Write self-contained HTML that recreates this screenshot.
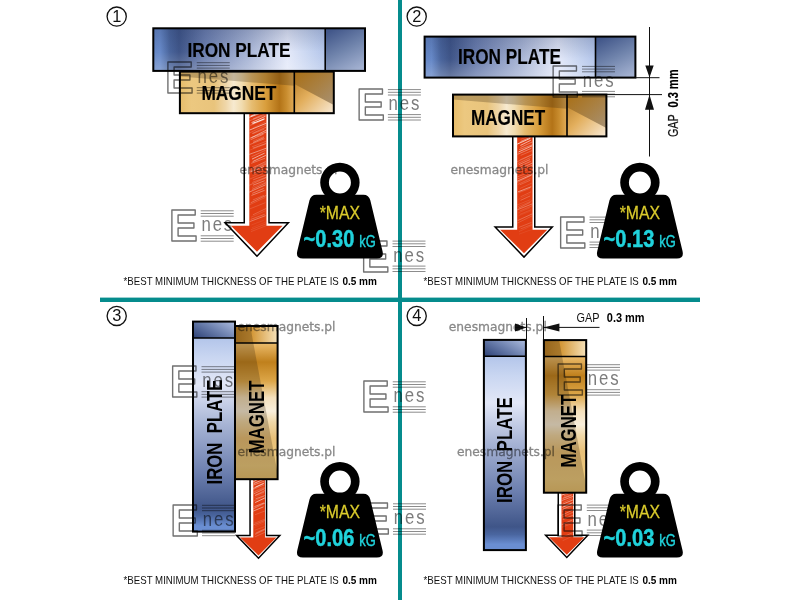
<!DOCTYPE html>
<html lang="en">
<head>
<meta charset="utf-8">
<title>Magnet holding force diagram</title>
<style>
html,body{margin:0;padding:0;background:#fff;}
body{width:800px;height:600px;overflow:hidden;}
svg{display:block;font-family:"Liberation Sans",sans-serif;will-change:transform;}
</style>
</head>
<body>
<svg width="800" height="600" viewBox="0 0 800 600">
<rect width="800" height="600" fill="#fff"/>
<defs>
<linearGradient id="gIron" x1="0" y1="0" x2="1" y2="0">
<stop offset="0" stop-color="#6587c6"/><stop offset="0.04" stop-color="#6789c8"/><stop offset="0.095" stop-color="#4a659c"/>
<stop offset="0.15" stop-color="#3f5588"/><stop offset="0.3" stop-color="#6b7eae"/><stop offset="0.55" stop-color="#a6b3d4"/>
<stop offset="0.78" stop-color="#e4e9f9"/><stop offset="0.9" stop-color="#c9d6f1"/><stop offset="1" stop-color="#b3c5ea"/>
</linearGradient>
<linearGradient id="gIronV" x1="0" y1="0" x2="0" y2="1">
<stop offset="0" stop-color="#1a2a55" stop-opacity="0.2"/><stop offset="0.55" stop-color="#1a2a55" stop-opacity="0"/><stop offset="0.55" stop-color="#fff" stop-opacity="0"/><stop offset="1" stop-color="#fff" stop-opacity="0.22"/>
</linearGradient>
<linearGradient id="gIronEnd" x1="0.25" y1="0" x2="0.75" y2="1">
<stop offset="0" stop-color="#42578a"/><stop offset="0.5" stop-color="#7084ac"/><stop offset="1" stop-color="#a2b0d0"/>
</linearGradient>
<linearGradient id="gMag" x1="0" y1="0" x2="1" y2="0">
<stop offset="0" stop-color="#e6bc6a"/><stop offset="0.1" stop-color="#ecc880"/><stop offset="0.3" stop-color="#e9c47c"/><stop offset="0.4" stop-color="#efd6a8"/>
<stop offset="0.47" stop-color="#f7ead0"/><stop offset="0.54" stop-color="#f1dcb0"/><stop offset="0.63" stop-color="#e6bc70"/><stop offset="0.75" stop-color="#d99e3c"/><stop offset="0.87" stop-color="#b37317"/><stop offset="0.93" stop-color="#c88c2e"/><stop offset="1" stop-color="#e2ac58"/>
</linearGradient>
<linearGradient id="gMagShade" x1="0" y1="0" x2="1" y2="0">
<stop offset="0" stop-color="#8a6a3a" stop-opacity="0.3"/><stop offset="0.5" stop-color="#8e8270" stop-opacity="0.55"/><stop offset="1" stop-color="#7a5a2a" stop-opacity="0.6"/>
</linearGradient>
<linearGradient id="gMagEnd" x1="0" y1="0" x2="1" y2="1">
<stop offset="0" stop-color="#b57a22"/><stop offset="0.45" stop-color="#e2ae5c"/><stop offset="1" stop-color="#f8ead6"/>
</linearGradient>
<linearGradient id="gMagEndShade" x1="0" y1="0" x2="1" y2="1">
<stop offset="0" stop-color="#a86e14" stop-opacity="0.9"/><stop offset="1" stop-color="#9a8466" stop-opacity="0.85"/>
</linearGradient>
<linearGradient id="gIronUp" x1="0" y1="1" x2="0" y2="0">
<stop offset="0" stop-color="#6a8ed2"/><stop offset="0.03" stop-color="#6a8ed2"/><stop offset="0.08" stop-color="#4a66a0"/>
<stop offset="0.12" stop-color="#3f5588"/><stop offset="0.3" stop-color="#6b7eae"/><stop offset="0.55" stop-color="#a6b3d4"/>
<stop offset="0.76" stop-color="#e2e7f7"/><stop offset="0.9" stop-color="#c9d6f1"/><stop offset="1" stop-color="#b3c5ea"/>
</linearGradient>
<linearGradient id="gIronEndV" x1="0" y1="0.85" x2="1" y2="0.15">
<stop offset="0" stop-color="#34487c"/><stop offset="0.5" stop-color="#6a7eac"/><stop offset="1" stop-color="#a6b6da"/>
</linearGradient>
<linearGradient id="gMagUp" x1="0" y1="1" x2="0" y2="0">
<stop offset="0" stop-color="#e6c070"/><stop offset="0.1" stop-color="#eccb80"/><stop offset="0.3" stop-color="#e8c078"/><stop offset="0.42" stop-color="#f0d8a8"/>
<stop offset="0.5" stop-color="#f9efdc"/><stop offset="0.6" stop-color="#f4e0bc"/><stop offset="0.72" stop-color="#dca648"/><stop offset="0.86" stop-color="#c0801c"/><stop offset="1" stop-color="#ecbc6c"/>
</linearGradient>
<linearGradient id="gMagEndV" x1="0" y1="0" x2="1" y2="0">
<stop offset="0" stop-color="#b87c20"/><stop offset="0.4" stop-color="#d49838"/><stop offset="1" stop-color="#f6e2ba"/>
</linearGradient>
<g id="logo" fill="none" stroke="#727272" stroke-width="1.4">
<text transform="translate(-2.2,31.3) scale(0.985,1)" font-size="43.8" font-weight="bold" fill="none" stroke-linejoin="round">E</text>
<path d="M29.5,0.8 H62.5 M29.5,3.5 H62.5 M29.5,6.2 H62.5 M29.5,25.8 H62.5 M29.5,28.5 H62.5 M29.5,31.2 H62.5" stroke="#8c8c8c" stroke-width="1"/>
<text transform="translate(30.2,21.3) scale(0.82,1)" font-size="20.5" fill="#7c7c7c" stroke="none" letter-spacing="2.3">nes</text>
</g>
<g id="weight">
<path d="M-19.7,0 A19.7,19.7 0 1 1 19.7,0 A19.7,19.7 0 1 1 -19.7,0 Z M-11,0 A11,11 0 1 0 11,0 A11,11 0 1 0 -11,0 Z" fill="#000" fill-rule="evenodd"/>
<path d="M-23.5,12.2 H23.5 Q29,12.2 30.4,17.8 L42.6,68.6 Q44.4,76 37,76 H-37 Q-44.4,76 -42.6,68.6 L-30.4,17.8 Q-29,12.2 -23.5,12.2 Z" fill="#000"/>
</g>
</defs>

<!-- divider lines -->
<rect x="398" y="0" width="4" height="600" fill="#058c8d"/>
<rect x="100" y="297.6" width="600" height="4.4" fill="#058c8d"/>
<!-- panel 1 -->
<path d="M244.25,112 V222.75 H225.1 L257,256.2 L288.4,222.75 H269 V112" fill="#fff" stroke="#000" stroke-width="1.5" stroke-linejoin="miter"/><clipPath id="ac1"><path d="M249.3,112 V225.75 H230.9 L257,251.7 L282.6,225.75 H266.45 V112 Z"/></clipPath><path d="M249.3,112 V225.75 H230.9 L257,251.7 L282.6,225.75 H266.45 V112 Z" fill="#e13d13"/><g clip-path="url(#ac1)" stroke="#fff" fill="none"><path d="M250.63,116.27 L265.42,109.73" stroke-width="1.04" stroke-opacity="0.66"/><path d="M248.77,117.53 L266.24,111.02" stroke-width="0.94" stroke-opacity="0.7"/><path d="M253.12,119.1 L264.83,113.88" stroke-width="1.07" stroke-opacity="0.32"/><path d="M249.25,120.87 L266.48,114.59" stroke-width="0.39" stroke-opacity="0.63"/><path d="M251.5,122.58 L265.45,116.27" stroke-width="0.72" stroke-opacity="0.82"/><path d="M252.5,123.56 L264.62,118.66" stroke-width="1.07" stroke-opacity="0.91"/><path d="M250.3,125.3 L264.06,119.6" stroke-width="0.9" stroke-opacity="0.33"/><path d="M252.85,128.05 L265.57,121.73" stroke-width="0.49" stroke-opacity="0.28"/><path d="M249.65,130.04 L267.1,122.94" stroke-width="0.89" stroke-opacity="0.66"/><path d="M248.81,133.27 L267.21,124.59" stroke-width="0.51" stroke-opacity="0.35"/><path d="M251.96,133.57 L266.93,126.83" stroke-width="0.47" stroke-opacity="0.54"/><path d="M253.15,133.61 L264.24,129.14" stroke-width="0.52" stroke-opacity="0.4"/><path d="M251.51,137.58 L267.05,129.83" stroke-width="0.93" stroke-opacity="0.5"/><path d="M249.78,138.26 L267.16,131.78" stroke-width="0.56" stroke-opacity="0.72"/><path d="M250.57,139.69 L263.61,134.11" stroke-width="0.58" stroke-opacity="0.61"/><path d="M252.84,141 L264.18,136.52" stroke-width="0.43" stroke-opacity="0.37"/><path d="M253.05,142.46 L263.92,137.63" stroke-width="0.46" stroke-opacity="0.79"/><path d="M249.49,144.67 L264.63,138.68" stroke-width="0.98" stroke-opacity="0.28"/><path d="M251.9,146.9 L267.17,140.92" stroke-width="0.44" stroke-opacity="0.42"/><path d="M252.89,148.24 L266.63,143.26" stroke-width="0.51" stroke-opacity="0.59"/><path d="M250.14,149.99 L265.16,144.31" stroke-width="0.43" stroke-opacity="0.28"/><path d="M249,154.49 L267.31,147.85" stroke-width="0.7" stroke-opacity="0.61"/><path d="M251.48,156.78 L265.52,150.29" stroke-width="0.32" stroke-opacity="0.75"/><path d="M251.99,159.1 L264.64,153.14" stroke-width="0.89" stroke-opacity="0.62"/><path d="M252.66,161.59 L265.78,155.41" stroke-width="0.89" stroke-opacity="0.58"/><path d="M251.21,163.35 L265.01,158.23" stroke-width="0.55" stroke-opacity="0.54"/><path d="M251.2,168.53 L265.69,161.61" stroke-width="0.76" stroke-opacity="0.41"/><path d="M250.7,169.82 L266.53,162.57" stroke-width="0.68" stroke-opacity="0.24"/><path d="M248.36,172.01 L266.25,163.87" stroke-width="0.45" stroke-opacity="0.66"/><path d="M250.51,171.96 L263.88,166.53" stroke-width="0.71" stroke-opacity="0.65"/><path d="M252.87,173.53 L263.93,168.96" stroke-width="0.79" stroke-opacity="0.42"/><path d="M252.49,175.78 L264.06,170.46" stroke-width="0.59" stroke-opacity="0.28"/><path d="M249.68,179.08 L266.59,172.01" stroke-width="0.56" stroke-opacity="0.29"/><path d="M253.21,179.79 L265.64,175.18" stroke-width="0.79" stroke-opacity="0.35"/><path d="M252.26,182.46 L267.37,176.73" stroke-width="0.47" stroke-opacity="0.46"/><path d="M249,185.36 L267.26,177.18" stroke-width="0.42" stroke-opacity="0.57"/><path d="M253.09,185.2 L264.71,180.69" stroke-width="0.76" stroke-opacity="0.48"/><path d="M251.87,187.62 L266.73,181.7" stroke-width="0.56" stroke-opacity="0.2"/><path d="M252.08,189.42 L265.88,182.93" stroke-width="0.64" stroke-opacity="0.42"/><path d="M248.95,192.27 L265.64,184.8" stroke-width="0.69" stroke-opacity="0.58"/><path d="M252.28,193.32 L263.67,188.48" stroke-width="0.78" stroke-opacity="0.42"/><path d="M251.51,195.42 L264.58,190.33" stroke-width="0.74" stroke-opacity="0.48"/><path d="M252.85,199.98 L264.03,195.41" stroke-width="0.44" stroke-opacity="0.49"/><path d="M250.74,202.74 L267.34,194.89" stroke-width="0.69" stroke-opacity="0.39"/><path d="M249.04,204.94 L265.38,197.4" stroke-width="0.34" stroke-opacity="0.47"/><path d="M249.41,209.04 L265.34,202.66" stroke-width="0.3" stroke-opacity="0.51"/><path d="M252.8,214.88 L266.62,208.26" stroke-width="0.7" stroke-opacity="0.29"/><path d="M250.98,217.24 L265.44,210.81" stroke-width="0.35" stroke-opacity="0.35"/><path d="M250.76,219.41 L264.69,214.26" stroke-width="0.54" stroke-opacity="0.42"/><path d="M249.65,221.65 L265.56,215.64" stroke-width="0.72" stroke-opacity="0.46"/><path d="M251.39,224.98 L263.75,220.31" stroke-width="0.34" stroke-opacity="0.24"/><path d="M251.74,227.77 L266.16,221.86" stroke-width="0.35" stroke-opacity="0.2"/><path d="M250.85,229.77 L266.45,223.72" stroke-width="0.3" stroke-opacity="0.36"/><path d="M250.95,231.62 L266.81,225.46" stroke-width="0.44" stroke-opacity="0.25"/></g>
<g transform="translate(179.9,71.6)"><rect width="114.4" height="41.6" fill="url(#gMag)"/><polygon points="0,0 114.4,0 114.4,14.14 0,4.99" fill="#3c2a10" fill-opacity="0.27"/><rect x="114.4" width="39.5" height="41.6" fill="url(#gMagEnd)"/><polygon points="114.4,0 153.9,0 153.9,33.28 114.4,12.48" fill="url(#gMagEndShade)"/><rect width="153.9" height="41.6" fill="none" stroke="#000" stroke-width="2"/><line x1="114.4" y1="0" x2="114.4" y2="41.6" stroke="#000" stroke-width="1.6"/></g>
<g transform="translate(153.3,28.3)"><rect width="171.9" height="42.6" fill="url(#gIron)"/><rect width="171.9" height="42.6" fill="url(#gIronV)"/><rect x="171.9" width="39.8" height="42.6" fill="url(#gIronEnd)"/><rect width="211.7" height="42.6" fill="none" stroke="#000" stroke-width="2"/><line x1="171.9" y1="0" x2="171.9" y2="42.6" stroke="#000" stroke-width="1.6"/></g>
<text transform="translate(187.4,56.7) scale(0.8235,1)" font-size="20.95" font-weight="bold" fill="#000" stroke="#000" stroke-width="0.15">IRON PLATE</text>
<text transform="translate(201.4,100) scale(0.8606,1)" font-size="20.11" font-weight="bold" fill="#000" stroke="#000" stroke-width="0.15">MAGNET</text>
<text transform="translate(123.6,284.9) scale(0.9124,1)" font-size="10.61" fill="#111">*BEST MINIMUM THICKNESS OF THE PLATE IS</text><text transform="translate(342.4,284.9) scale(0.9431,1)" font-size="10.61" font-weight="bold" fill="#000">0.5 mm</text>
<circle cx="116.7" cy="16.6" r="9.6" fill="#fff" stroke="#111" stroke-width="1.3"/><text x="116.7" y="22.1" font-size="16.4" text-anchor="middle" fill="#111">1</text>
<!-- panel 2 -->
<path d="M512.75,136 V227 H495.1 L524,257.1 L552.3,227 H534.75 V136" fill="#fff" stroke="#000" stroke-width="1.5" stroke-linejoin="miter"/><clipPath id="ac2"><path d="M517.19,136 V229.69 H500.1 L524,253.19 L547.3,229.69 H532.55 V136 Z"/></clipPath><path d="M517.19,136 V229.69 H500.1 L524,253.19 L547.3,229.69 H532.55 V136 Z" fill="#e13d13"/><g clip-path="url(#ac2)" stroke="#fff" fill="none"><path d="M520.66,139.3 L532.89,134.7" stroke-width="0.37" stroke-opacity="0.39"/><path d="M520.49,141.62 L532.4,136.33" stroke-width="0.52" stroke-opacity="0.86"/><path d="M516.41,144.47 L530.39,138.28" stroke-width="0.86" stroke-opacity="0.87"/><path d="M520.39,145.41 L530.77,140.27" stroke-width="0.77" stroke-opacity="0.82"/><path d="M520.47,147.5 L532.43,141.89" stroke-width="0.53" stroke-opacity="0.66"/><path d="M519.18,149.64 L532.88,144.61" stroke-width="0.93" stroke-opacity="0.37"/><path d="M518.51,151.99 L532.08,145.85" stroke-width="0.7" stroke-opacity="0.83"/><path d="M517.52,154.32 L531.41,148.27" stroke-width="0.74" stroke-opacity="0.5"/><path d="M520.65,155.39 L532.27,150.5" stroke-width="0.39" stroke-opacity="0.58"/><path d="M520.2,159.76 L532.93,154.2" stroke-width="0.39" stroke-opacity="0.49"/><path d="M516.36,162.1 L531.63,154.9" stroke-width="0.45" stroke-opacity="0.46"/><path d="M518.03,163.54 L530.58,157.4" stroke-width="0.36" stroke-opacity="0.65"/><path d="M518.81,164.76 L530,159.57" stroke-width="0.67" stroke-opacity="0.53"/><path d="M519.7,166.3 L530.61,161.44" stroke-width="0.56" stroke-opacity="0.6"/><path d="M517.72,169.76 L532.93,162.81" stroke-width="0.74" stroke-opacity="0.52"/><path d="M517.77,170.93 L533.12,164.94" stroke-width="0.95" stroke-opacity="0.27"/><path d="M517.12,174.11 L532.31,167.08" stroke-width="0.62" stroke-opacity="0.29"/><path d="M517.1,177.07 L531.79,171" stroke-width="0.32" stroke-opacity="0.67"/><path d="M517.23,179 L532.59,173.33" stroke-width="0.46" stroke-opacity="0.46"/><path d="M516.45,181.56 L531.76,174.76" stroke-width="0.71" stroke-opacity="0.67"/><path d="M516.21,182.98 L531.28,175.47" stroke-width="0.78" stroke-opacity="0.24"/><path d="M517.72,184.51 L530.45,178.47" stroke-width="0.38" stroke-opacity="0.48"/><path d="M519.79,184.82 L530.35,180.2" stroke-width="0.4" stroke-opacity="0.53"/><path d="M519.95,188.51 L531.72,183.13" stroke-width="0.39" stroke-opacity="0.34"/><path d="M517.92,191.9 L531.2,186.76" stroke-width="0.75" stroke-opacity="0.6"/><path d="M518.51,192.78 L530.07,188.37" stroke-width="0.43" stroke-opacity="0.38"/><path d="M520.44,196.83 L531.09,191.79" stroke-width="0.29" stroke-opacity="0.53"/><path d="M518.45,199.4 L530.19,193.69" stroke-width="0.38" stroke-opacity="0.22"/><path d="M520.54,200.39 L530.17,195.94" stroke-width="0.47" stroke-opacity="0.5"/><path d="M516.45,205.26 L530.23,199.73" stroke-width="0.41" stroke-opacity="0.3"/><path d="M517.68,206.78 L532.92,200.28" stroke-width="0.52" stroke-opacity="0.23"/><path d="M518.62,208.07 L530.4,202.24" stroke-width="0.44" stroke-opacity="0.5"/><path d="M517.17,209.85 L533.09,203.58" stroke-width="0.55" stroke-opacity="0.55"/><path d="M519.86,211.02 L533.14,205.34" stroke-width="0.82" stroke-opacity="0.19"/><path d="M517.9,213.11 L530.27,207.65" stroke-width="0.45" stroke-opacity="0.2"/><path d="M519.81,214.4 L531.14,209.74" stroke-width="0.63" stroke-opacity="0.19"/><path d="M518.22,215.95 L530.76,211.05" stroke-width="0.34" stroke-opacity="0.2"/><path d="M517.55,220.61 L532.69,213.7" stroke-width="0.56" stroke-opacity="0.48"/><path d="M516.98,223.24 L532.09,215.86" stroke-width="0.54" stroke-opacity="0.29"/><path d="M518.76,227.44 L531.39,222.47" stroke-width="0.59" stroke-opacity="0.32"/><path d="M520.58,228.92 L531.47,224.65" stroke-width="0.43" stroke-opacity="0.39"/><path d="M518.9,231.58 L532.44,225.23" stroke-width="0.26" stroke-opacity="0.37"/><path d="M519.1,234.11 L532.61,229.23" stroke-width="0.42" stroke-opacity="0.17"/></g>
<g transform="translate(424.6,36.6)"><rect width="170.9" height="41" fill="url(#gIron)"/><rect width="170.9" height="41" fill="url(#gIronV)"/><rect x="170.9" width="39.9" height="41" fill="url(#gIronEnd)"/><rect width="210.8" height="41" fill="none" stroke="#000" stroke-width="2"/><line x1="170.9" y1="0" x2="170.9" y2="41" stroke="#000" stroke-width="1.6"/></g>
<g transform="translate(453,94.6)"><rect width="114" height="41.8" fill="url(#gMag)"/><polygon points="0,0 114,0 114,14.21 0,5.02" fill="#3c2a10" fill-opacity="0.27"/><rect x="114" width="39.4" height="41.8" fill="url(#gMagEnd)"/><polygon points="114,0 153.4,0 153.4,33.44 114,12.54" fill="url(#gMagEndShade)"/><rect width="153.4" height="41.8" fill="none" stroke="#000" stroke-width="2"/><line x1="114" y1="0" x2="114" y2="41.8" stroke="#000" stroke-width="1.6"/></g>
<text transform="translate(458,64) scale(0.7954,1)" font-size="21.65" font-weight="bold" fill="#000" stroke="#000" stroke-width="0.15">IRON PLATE</text>
<text transform="translate(471,124.5) scale(0.7910,1)" font-size="21.65" font-weight="bold" fill="#000" stroke="#000" stroke-width="0.15">MAGNET</text>
<text transform="translate(423.6,284.9) scale(0.9124,1)" font-size="10.61" fill="#111">*BEST MINIMUM THICKNESS OF THE PLATE IS</text><text transform="translate(642.4,284.9) scale(0.9431,1)" font-size="10.61" font-weight="bold" fill="#000">0.5 mm</text>
<circle cx="416.7" cy="16.6" r="9.6" fill="#fff" stroke="#111" stroke-width="1.3"/><text x="416.7" y="22.1" font-size="16.4" text-anchor="middle" fill="#111">2</text>
<g stroke="#111" stroke-width="1" fill="none"><path d="M649.5,27 V156.5 M635.5,77.7 H659.5 M607,94.6 H662"/></g>
<path d="M645.3,65.5 H653.7 L649.5,77.6 Z M649.5,94.7 L654,109.7 H645 Z" fill="#111"/>
<text transform="translate(678.2,137) rotate(-90) scale(0.7260,1)" font-size="14.8" fill="#111" stroke="#111" stroke-width="0.2" xml:space="preserve">GAP</text>
<text transform="translate(678.2,107.6) rotate(-90) scale(0.7487,1)" font-size="14.8" font-weight="bold" fill="#000" stroke="#000" stroke-width="0.2" xml:space="preserve">0.3 mm</text>
<!-- panel 3 -->
<path d="M250.05,478 V535.5 H236.6 L258.5,558.2 L279.8,535.5 H266.55 V478" fill="#fff" stroke="#000" stroke-width="1.5" stroke-linejoin="miter"/><clipPath id="ac3"><path d="M253.28,478 V537.56 H240.01 L258.5,555.46 L276.39,537.56 H265.04 V478 Z"/></clipPath><path d="M253.28,478 V537.56 H240.01 L258.5,555.46 L276.39,537.56 H265.04 V478 Z" fill="#e13d13"/><g clip-path="url(#ac3)" stroke="#fff" fill="none"><path d="M253.23,481.67 L264.25,476.33" stroke-width="0.96" stroke-opacity="0.7"/><path d="M254,483.4 L263.39,479.33" stroke-width="0.8" stroke-opacity="0.7"/><path d="M253.34,485.11 L264.68,480.95" stroke-width="0.56" stroke-opacity="0.68"/><path d="M255.46,487 L264.51,482.88" stroke-width="0.95" stroke-opacity="0.54"/><path d="M253.01,488.58 L263.58,483.66" stroke-width="0.54" stroke-opacity="0.87"/><path d="M252.3,489.78 L264.6,484.83" stroke-width="0.53" stroke-opacity="0.42"/><path d="M255.27,490.81 L263.99,486.98" stroke-width="0.35" stroke-opacity="0.33"/><path d="M252.47,492.57 L265.28,487.59" stroke-width="0.55" stroke-opacity="0.34"/><path d="M253.5,493.97 L264.56,488.77" stroke-width="0.65" stroke-opacity="0.53"/><path d="M254.95,495.43 L265.73,490.23" stroke-width="0.58" stroke-opacity="0.53"/><path d="M255.32,495.54 L264.11,492.17" stroke-width="0.53" stroke-opacity="0.5"/><path d="M254.34,497.66 L264.04,493.54" stroke-width="0.37" stroke-opacity="0.27"/><path d="M255.57,498.89 L264.72,495.57" stroke-width="0.9" stroke-opacity="0.39"/><path d="M252.91,501.32 L264.09,496.33" stroke-width="0.38" stroke-opacity="0.41"/><path d="M255.13,502.55 L264.85,497.95" stroke-width="0.94" stroke-opacity="0.63"/><path d="M254.42,506.66 L264.06,502.88" stroke-width="0.84" stroke-opacity="0.48"/><path d="M252.96,509 L265.52,502.81" stroke-width="0.66" stroke-opacity="0.51"/><path d="M252.3,511.5 L263.46,506.84" stroke-width="0.71" stroke-opacity="0.68"/><path d="M254.99,514.71 L265.41,510.8" stroke-width="0.75" stroke-opacity="0.21"/><path d="M254.4,523.15 L265.14,519.09" stroke-width="0.76" stroke-opacity="0.19"/><path d="M252.97,525.11 L265.81,520.12" stroke-width="0.52" stroke-opacity="0.37"/><path d="M255.02,525.83 L264.54,521.79" stroke-width="0.33" stroke-opacity="0.33"/><path d="M253.43,528.07 L265.05,523.47" stroke-width="0.3" stroke-opacity="0.18"/><path d="M254.76,530.19 L265.42,526.29" stroke-width="0.4" stroke-opacity="0.3"/><path d="M255.56,533.27 L265.13,528.73" stroke-width="0.59" stroke-opacity="0.48"/><path d="M254.98,534.47 L264.98,529.65" stroke-width="0.52" stroke-opacity="0.42"/><path d="M255.06,536.82 L265.26,532.11" stroke-width="0.46" stroke-opacity="0.43"/></g>
<rect x="235" y="343" width="42.6" height="136.2" fill="url(#gMagUp)"/><rect x="235" y="326" width="42.6" height="17" fill="url(#gMagEndV)"/><polygon points="235,326 250.34,326 253.32,343 277.6,473.2 277.6,479.2 235,479.2" fill="#3c2a10" fill-opacity="0.27"/><rect x="235" y="326" width="42.6" height="153.2" fill="none" stroke="#000" stroke-width="2"/><line x1="235" y1="343" x2="277.6" y2="343" stroke="#000" stroke-width="1.6"/>
<rect x="193" y="338" width="42" height="193.6" fill="url(#gIronUp)"/><rect x="193" y="321.6" width="42" height="16.4" fill="url(#gIronEndV)"/><rect x="193" y="321.6" width="42" height="210" fill="none" stroke="#000" stroke-width="2"/><line x1="193" y1="338" x2="235" y2="338" stroke="#000" stroke-width="1.6"/>
<text transform="translate(222.3,484.5) rotate(-90) scale(0.7699,1)" font-size="21.79" font-weight="bold" fill="#000" xml:space="preserve">IRON  PLATE</text>
<text transform="translate(264.4,453.5) rotate(-90) scale(0.7833,1)" font-size="21.51" font-weight="bold" fill="#000" xml:space="preserve">MAGNET</text>
<text transform="translate(123.6,583.9) scale(0.9124,1)" font-size="10.61" fill="#111">*BEST MINIMUM THICKNESS OF THE PLATE IS</text><text transform="translate(342.4,583.9) scale(0.9431,1)" font-size="10.61" font-weight="bold" fill="#000">0.5 mm</text>
<circle cx="116.7" cy="315.9" r="9.6" fill="#fff" stroke="#111" stroke-width="1.3"/><text x="116.7" y="321.4" font-size="16.4" text-anchor="middle" fill="#111">3</text>
<!-- panel 4 -->
<path d="M558.25,492 V535.3 H545.6 L566.8,557.5 L587.8,535.3 H574.75 V492" fill="#fff" stroke="#000" stroke-width="1.5" stroke-linejoin="miter"/><clipPath id="ac4"><path d="M561.48,492 V537.36 H549.01 L566.8,554.76 L584.39,537.36 H573.24 V492 Z"/></clipPath><path d="M561.48,492 V537.36 H549.01 L566.8,554.76 L584.39,537.36 H573.24 V492 Z" fill="#e13d13"/><g clip-path="url(#ac4)" stroke="#fff" fill="none"><path d="M561.08,495.28 L573.62,490.72" stroke-width="0.99" stroke-opacity="0.64"/><path d="M563.87,495.92 L572.33,492.43" stroke-width="0.72" stroke-opacity="0.39"/><path d="M563.36,497.51 L572.54,494.06" stroke-width="0.39" stroke-opacity="0.49"/><path d="M562.62,498.52 L571.58,495.25" stroke-width="0.42" stroke-opacity="0.87"/><path d="M561.36,500.7 L573.56,496.23" stroke-width="0.47" stroke-opacity="0.83"/><path d="M562.92,502.57 L572.22,498.38" stroke-width="0.35" stroke-opacity="0.52"/><path d="M562.33,504.36 L573.6,499.58" stroke-width="0.73" stroke-opacity="0.62"/><path d="M563.36,506.22 L574.12,502.11" stroke-width="0.88" stroke-opacity="0.45"/><path d="M562.34,507.38 L571.51,503.62" stroke-width="0.75" stroke-opacity="0.66"/><path d="M562.56,509.22 L574.07,504.37" stroke-width="0.87" stroke-opacity="0.43"/><path d="M562.68,509.94 L571.95,505.8" stroke-width="0.43" stroke-opacity="0.31"/><path d="M561.42,511.75 L572.35,506.86" stroke-width="0.31" stroke-opacity="0.38"/><path d="M560.7,515.76 L572.83,509.92" stroke-width="0.46" stroke-opacity="0.69"/><path d="M561.51,517.28 L573.13,512.2" stroke-width="0.47" stroke-opacity="0.45"/><path d="M562.73,519.54 L574.03,514.77" stroke-width="0.86" stroke-opacity="0.32"/><path d="M561.31,524.83 L572.31,520" stroke-width="0.75" stroke-opacity="0.41"/><path d="M563.71,525.45 L573.55,521.59" stroke-width="0.35" stroke-opacity="0.35"/><path d="M562.18,527.19 L571.74,523.65" stroke-width="0.45" stroke-opacity="0.3"/><path d="M560.49,537.98 L573.38,532.37" stroke-width="0.61" stroke-opacity="0.36"/><path d="M560.89,539.13 L573.16,533.85" stroke-width="0.24" stroke-opacity="0.2"/><path d="M562.64,540.67 L572.38,536.23" stroke-width="0.68" stroke-opacity="0.17"/></g>
<rect x="483.9" y="356.3" width="42" height="193.8" fill="url(#gIronUp)"/><rect x="483.9" y="339.9" width="42" height="16.4" fill="url(#gIronEndV)"/><rect x="483.9" y="339.9" width="42" height="210.2" fill="none" stroke="#000" stroke-width="2"/><line x1="483.9" y1="356.3" x2="525.9" y2="356.3" stroke="#000" stroke-width="1.6"/>
<rect x="543.9" y="356.5" width="42.3" height="136.2" fill="url(#gMagUp)"/><rect x="543.9" y="340.1" width="42.3" height="16.4" fill="url(#gMagEndV)"/><polygon points="543.9,340.1 559.13,340.1 562.09,356.5 586.2,486.7 586.2,492.7 543.9,492.7" fill="#3c2a10" fill-opacity="0.27"/><rect x="543.9" y="340.1" width="42.3" height="152.6" fill="none" stroke="#000" stroke-width="2"/><line x1="543.9" y1="356.5" x2="586.2" y2="356.5" stroke="#000" stroke-width="1.6"/>
<text transform="translate(512.1,503) rotate(-90) scale(0.7660,1)" font-size="22.07" font-weight="bold" fill="#000" xml:space="preserve">IRON  PLATE</text>
<text transform="translate(576.2,467.6) rotate(-90) scale(0.7732,1)" font-size="21.79" font-weight="bold" fill="#000" xml:space="preserve">MAGNET</text>
<text transform="translate(423.6,583.9) scale(0.9124,1)" font-size="10.61" fill="#111">*BEST MINIMUM THICKNESS OF THE PLATE IS</text><text transform="translate(642.4,583.9) scale(0.9431,1)" font-size="10.61" font-weight="bold" fill="#000">0.5 mm</text>
<circle cx="416.7" cy="315.9" r="9.6" fill="#fff" stroke="#111" stroke-width="1.3"/><text x="416.7" y="321.4" font-size="16.4" text-anchor="middle" fill="#111">4</text>
<g stroke="#111" stroke-width="1" fill="none"><path d="M526.5,318 V420 M543.5,316 V340 M515,327.4 H526.5 M543.5,327.4 H599.5"/></g>
<path d="M515,323.4 L526.4,327.4 L515,331.4 Z M559.4,323.4 L543.6,327.4 L559.4,331.4 Z" fill="#111"/>
<text transform="translate(576.6,321.6) scale(0.9067,1)" font-size="12.01" fill="#111">GAP</text>
<text transform="translate(606.8,321.6) scale(0.9131,1)" font-size="12.01" font-weight="bold" fill="#000">0.3 mm</text>
<!-- watermarks -->
<g style="mix-blend-mode:multiply">
<g font-family="'DejaVu Sans',sans-serif" font-size="12.25" fill="#888" stroke="#888" stroke-width="0.3">
<text x="239.5" y="173.7">enesmagnets.pl</text>
<text x="450.5" y="173.7">enesmagnets.pl</text>
<text x="237.5" y="330.9">enesmagnets.pl</text>
<text x="237.5" y="456.4">enesmagnets.pl</text>
<text x="448.8" y="330.9">enesmagnets.pl</text>
<text x="457" y="456.3">enesmagnets.pl</text>
</g>
<use href="#logo" x="167.25" y="61.9"/>
<use href="#logo" x="358.4" y="88.8"/>
<use href="#logo" x="171.2" y="210"/>
<use href="#logo" x="363" y="240.3"/>
<use href="#logo" x="552.5" y="65.6"/>
<use href="#logo" x="560" y="216.3"/>
<use href="#logo" x="172" y="365.9"/>
<use href="#logo" x="363.25" y="381"/>
<use href="#logo" x="172.5" y="504.5"/>
<use href="#logo" x="363.5" y="503"/>
<use href="#logo" x="557.5" y="363.9"/>
<use href="#logo" x="557.3" y="504.3"/>
</g>
<!-- weights -->
<g transform="translate(339.9,182.5)"><use href="#weight"/><text transform="translate(-20.2,36.2) scale(0.8772,1)" font-size="18.02" fill="#dacb2c" stroke="#dacb2c" stroke-width="0.25">*MAX</text><text transform="translate(-36.3,64.3) scale(0.8439,1)" font-size="23.74" font-weight="bold" fill="#20d3dc" stroke="#20d3dc" stroke-width="0.5">~0.30</text><text transform="translate(19.3,64.3) scale(0.7834,1)" font-size="16.48" fill="#20d3dc" stroke="#20d3dc" stroke-width="0.4">kG</text></g>
<g transform="translate(639.9,182.5)"><use href="#weight"/><text transform="translate(-20.2,36.2) scale(0.8772,1)" font-size="18.02" fill="#dacb2c" stroke="#dacb2c" stroke-width="0.25">*MAX</text><text transform="translate(-36.3,64.3) scale(0.8439,1)" font-size="23.74" font-weight="bold" fill="#20d3dc" stroke="#20d3dc" stroke-width="0.5">~0.13</text><text transform="translate(19.3,64.3) scale(0.7834,1)" font-size="16.48" fill="#20d3dc" stroke="#20d3dc" stroke-width="0.4">kG</text></g>
<g transform="translate(339.9,481.6)"><use href="#weight"/><text transform="translate(-20.2,36.2) scale(0.8772,1)" font-size="18.02" fill="#dacb2c" stroke="#dacb2c" stroke-width="0.25">*MAX</text><text transform="translate(-36.3,64.2) scale(0.8439,1)" font-size="23.74" font-weight="bold" fill="#20d3dc" stroke="#20d3dc" stroke-width="0.5">~0.06</text><text transform="translate(19.3,64.2) scale(0.7834,1)" font-size="16.48" fill="#20d3dc" stroke="#20d3dc" stroke-width="0.4">kG</text></g>
<g transform="translate(639.9,481.6)"><use href="#weight"/><text transform="translate(-20.2,36.2) scale(0.8772,1)" font-size="18.02" fill="#dacb2c" stroke="#dacb2c" stroke-width="0.25">*MAX</text><text transform="translate(-36.3,64.2) scale(0.8439,1)" font-size="23.74" font-weight="bold" fill="#20d3dc" stroke="#20d3dc" stroke-width="0.5">~0.03</text><text transform="translate(19.3,64.2) scale(0.7834,1)" font-size="16.48" fill="#20d3dc" stroke="#20d3dc" stroke-width="0.4">kG</text></g>
</svg>
</body>
</html>
